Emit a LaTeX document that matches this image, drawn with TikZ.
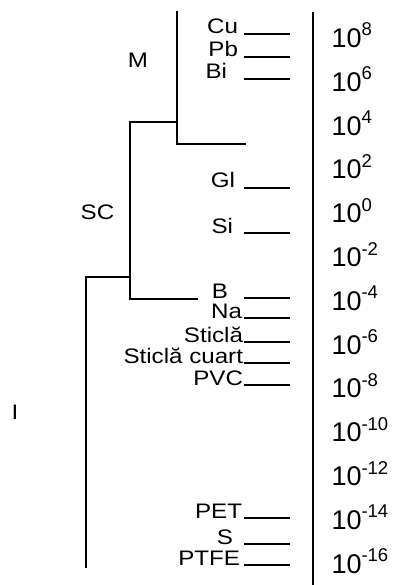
\documentclass[tikz,border=0pt]{standalone}
\usepackage{graphicx}
\usepackage{fontspec}
\setmainfont{Liberation Sans}
\newcommand{\lbltxt}[1]{\scalebox{1.15}[1]{\fontsize{21}{23}\selectfont #1}}
\newcommand{\pw}[1]{{\fontsize{27}{29}\selectfont 10}\raisebox{11.5pt}{\fontsize{18.5}{19}\selectfont #1}}
\begin{document}
\begin{tikzpicture}[x=1pt,y=-1pt,
  ln/.style={line width=1.6pt,line cap=rect},
  lbl/.style={anchor=base east,inner sep=0pt,outer sep=0pt},
  val/.style={anchor=base west,inner sep=0pt,outer sep=0pt},
  grp/.style={inner sep=0pt}]
\useasboundingbox (0,0) rectangle (394,585);
% scale axis
\coordinate (axT) at (313,12);
\coordinate (axB) at (313,585);
\draw[line width=1.6pt] (axT) -- (axB);
% powers of ten
\foreach \e [count=\k from 0] in {8,6,4,2,0,-2,-4,-6,-8,-10,-12,-14,-16}{
  \node[val] (p\k) at (331.5,{47.5+43.8*\k}) {\pw{\e}};
}
% tree
\coordinate (mT) at (177,12);
\coordinate (mB) at (177,144);
\coordinate (mE) at (245,144);
\coordinate (mJ) at (177,122);
\coordinate (scT) at (130,122);
\coordinate (scB) at (130,299);
\coordinate (scE) at (197,299);
\coordinate (scJ) at (130,277);
\coordinate (iT) at (86,277);
\coordinate (iB) at (86,567);
\draw[ln] (mT) -- (mB) -- (mE);
\draw[ln] (mJ) -- (scT) -- (scB) -- (scE);
\draw[ln] (scJ) -- (iT) -- (iB);
\node[grp] (M) at (138,60) {\lbltxt{M}};
\node[grp] (SC) at (97.5,212) {\lbltxt{SC}};
\node[grp] (I) at (15,412) {\lbltxt{I}};
% materials
\foreach \name/\txt/\xe/\y in {cu/Cu/238/34, pb/Pb/238/57, bi/Bi/227/79, gl/Gl/235/188, si/Si/233/233, b/B/228/298, na/Na/242/318, st/Sticlă/243/342, sq/Sticlă cuart/243/363, pvc/PVC/243/385, pet/PET/242/518, s/S/233/544, ptfe/PTFE/240/565}{
  \node[lbl] (\name) at (\xe,\y) {\lbltxt{\txt}};
  \coordinate (\name a) at (244,\y);
  \coordinate (\name b) at (290,\y);
  \draw[line width=1.6pt] (\name a) -- (\name b);
}
\end{tikzpicture}
\end{document}
